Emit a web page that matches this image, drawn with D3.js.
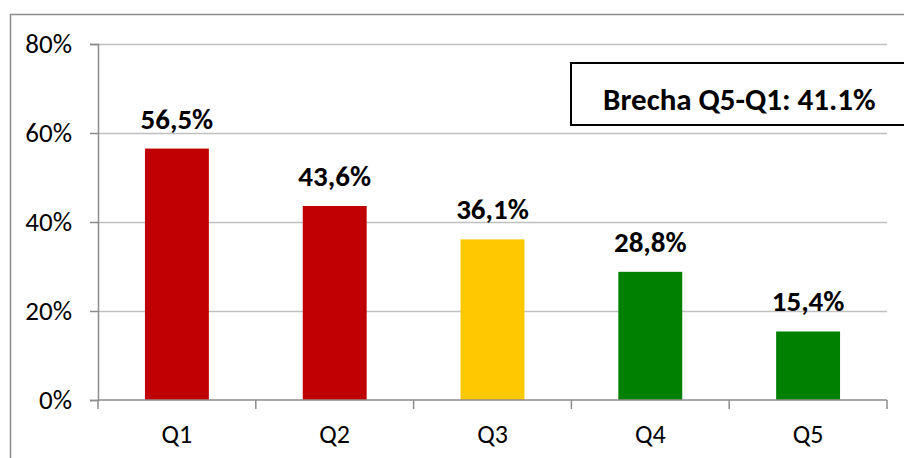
<!DOCTYPE html>
<html>
<head>
<meta charset="utf-8">
<script src="https://cdn.jsdelivr.net/npm/d3@7"></script>
<style>
  body { margin: 0; background: #fff; }
  text { font-family: Carlito, Calibri, Lato, sans-serif; }
</style>
</head>
<body>
<div id="chart"></div>
<script>
const categories = ['Q1', 'Q2', 'Q3', 'Q4', 'Q5'];
const values = [56.5, 43.6, 36.1, 28.8, 15.4];
const valueLabels = ['56,5%', '43,6%', '36,1%', '28,8%', '15,4%'];
const barColors = ['#c00000', '#c00000', '#ffc800', '#008000', '#008000'];
const yTicks = [0, 20, 40, 60, 80];
const gapText = 'Brecha Q5-Q1: 41.1%';

const W = 904, H = 458;
const margin = {top: 44, right: 17, bottom: 58, left: 98};
const width = W - margin.left - margin.right, height = H - margin.top - margin.bottom;

const root = d3.select('#chart').append('svg')
    .attr('width', W)
    .attr('height', H);

// outer chart frame (runs off the right and bottom edges)
root.append('rect')
    .attr('x', 10.5).attr('y', 14.5)
    .attr('width', W).attr('height', H)
    .attr('fill', 'none')
    .attr('stroke', '#8c8c8c')
    .attr('stroke-width', 1.5);

const svg = root.append('g')
    .attr('transform', `translate(${margin.left},${margin.top})`);

const x = d3.scaleBand().domain(categories).range([0, width]).paddingInner(0.595).paddingOuter(0.2975);
const xBand = d3.scaleBand().domain(categories).range([0, width]);
const y = d3.scaleLinear().domain([0, 80]).range([height, 0]);

// gridlines
svg.selectAll('.grid')
    .data(yTicks.filter(d => d > 0))
    .enter().append('line')
    .attr('x1', 0).attr('x2', width)
    .attr('y1', d => Math.round(y(d)) + 0.5).attr('y2', d => Math.round(y(d)) + 0.5)
    .attr('stroke', '#c0c0c0')
    .attr('stroke-width', 1.5);

// bars
svg.selectAll('.bar')
    .data(values)
    .enter().append('rect')
    .attr('x', (d, i) => x(categories[i]))
    .attr('y', d => y(d))
    .attr('width', x.bandwidth())
    .attr('height', d => height - y(d))
    .attr('fill', (d, i) => barColors[i]);

// value labels
svg.selectAll('.lbl')
    .data(values)
    .enter().append('text')
    .attr('x', (d, i) => x(categories[i]) + x.bandwidth() / 2)
    .attr('y', d => y(d) - 20)
    .attr('text-anchor', 'middle')
    .attr('font-weight', 'bold')
    .attr('font-size', 29)
    .attr('fill', '#000')
    .text((d, i) => valueLabels[i]);

// y axis
const yAxis = svg.append('g')
    .call(d3.axisLeft(y).tickValues(yTicks).tickSize(8).tickPadding(18).tickFormat(d => d + '%'));
yAxis.selectAll('text').attr('font-size', 27).attr('fill', '#000').style('font-family', 'Carlito, Calibri, Lato, sans-serif');

// x axis with ticks at category boundaries
const xAxis = svg.append('g').attr('transform', `translate(0,${height})`);
xAxis.append('line')
    .attr('x1', 0).attr('x2', width)
    .attr('y1', 0).attr('y2', 0);
xAxis.selectAll('.xt')
    .data(categories.concat(['end']))
    .enter().append('line')
    .attr('x1', (d, i) => i < categories.length ? xBand(d) : width)
    .attr('x2', (d, i) => i < categories.length ? xBand(d) : width)
    .attr('y1', 0).attr('y2', 9);
xAxis.selectAll('line').attr('stroke', '#8c8c8c').attr('stroke-width', 1.5);
xAxis.selectAll('.xl')
    .data(categories)
    .enter().append('text')
    .attr('x', d => xBand(d) + xBand.bandwidth() / 2)
    .attr('y', 43)
    .attr('text-anchor', 'middle')
    .attr('font-size', 26)
    .attr('fill', '#000')
    .text(d => d);

yAxis.select('.domain').attr('stroke', '#8c8c8c').attr('stroke-width', 1.5);
yAxis.selectAll('.tick line').attr('stroke', '#8c8c8c').attr('stroke-width', 1.5);

// gap annotation box
root.append('rect')
    .attr('x', 571).attr('y', 63)
    .attr('width', 400).attr('height', 62)
    .attr('fill', '#fff')
    .attr('stroke', '#000')
    .attr('stroke-width', 2);
root.append('text')
    .attr('x', 603).attr('y', 110)
    .attr('font-weight', 'bold')
    .attr('font-size', 31)
    .attr('fill', '#000')
    .text(gapText);
</script>
</body>
</html>
